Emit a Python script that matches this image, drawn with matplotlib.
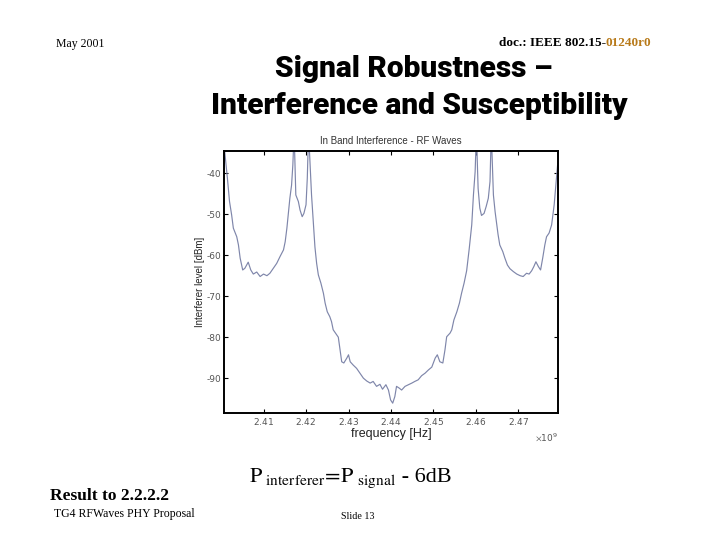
import matplotlib
matplotlib.use("Agg")
import matplotlib.pyplot as plt
from matplotlib.ticker import ScalarFormatter, FixedLocator

# frequency in GHz (plotted in Hz)
freq_ghz = [
    2.4008, 2.4015, 2.4020, 2.4025, 2.4029, 2.4037, 2.4041, 2.4045, 2.4051, 2.4056,
    2.4064, 2.4070, 2.4076, 2.4084, 2.4092, 2.4100, 2.4108, 2.4115, 2.4123, 2.4131,
    2.4139, 2.4147, 2.4151, 2.4155, 2.4158, 2.4162, 2.4166, 2.4169, 2.4172, 2.4176,
    2.4182, 2.4186, 2.4191, 2.4195, 2.4200, 2.4203, 2.4206, 2.4209, 2.4213, 2.4217,
    2.4221, 2.4225, 2.4229, 2.4235, 2.4241, 2.4245, 2.4250, 2.4256, 2.4260, 2.4264,
    2.4272, 2.4276, 2.4280, 2.4284, 2.4289, 2.4296, 2.4300, 2.4304, 2.4311, 2.4319,
    2.4327, 2.4335, 2.4343, 2.4351, 2.4358, 2.4366, 2.4374, 2.4380, 2.4388, 2.4394,
    2.4399, 2.4404, 2.4409, 2.4413, 2.4419, 2.4425, 2.4433, 2.4441, 2.4449, 2.4456,
    2.4464, 2.4472, 2.4480, 2.4488, 2.4496, 2.4504, 2.4509, 2.4515, 2.4522, 2.4527,
    2.4531, 2.4539, 2.4543, 2.4548, 2.4555, 2.4561, 2.4566, 2.4572, 2.4578, 2.4584,
    2.4590, 2.4594, 2.4598, 2.4601, 2.4605, 2.4609, 2.4613, 2.4619, 2.4624, 2.4629,
    2.4633, 2.4636, 2.4641, 2.4645, 2.4649, 2.4652, 2.4656, 2.4663, 2.4668, 2.4674,
    2.4680, 2.4688, 2.4696, 2.4704, 2.4711, 2.4719, 2.4725, 2.4731, 2.4736, 2.4741,
    2.4747, 2.4752, 2.4757, 2.4762, 2.4766, 2.4772, 2.4778, 2.4784, 2.4788, 2.4792,
]
level_dbm = [
    -34.0, -41.2, -46.9, -50.2, -53.4, -55.5, -57.5, -60.7, -63.6, -63.2,
    -61.7, -63.6, -64.6, -64.1, -65.2, -64.6, -65.0, -64.4, -63.2, -62.0,
    -60.3, -58.7, -56.7, -53.4, -50.2, -46.1, -42.9, -38.0, -30.0, -45.3,
    -46.9, -49.0, -50.6, -49.8, -47.7, -41.2, -30.0, -36.8, -45.3, -51.8,
    -58.0, -62.0, -64.8, -66.8, -69.3, -71.7, -73.8, -75.0, -76.2, -78.2,
    -79.4, -80.0, -83.1, -86.0, -86.3, -85.1, -84.3, -86.0, -86.8, -87.6,
    -88.8, -90.0, -90.7, -91.2, -90.8, -92.0, -91.5, -92.7, -91.6, -92.9,
    -95.3, -96.1, -94.5, -92.0, -92.4, -92.9, -92.0, -91.6, -91.2, -90.8,
    -90.4, -89.4, -88.8, -88.0, -87.3, -85.1, -84.3, -86.0, -86.3, -83.1,
    -79.9, -79.0, -78.2, -75.8, -73.8, -71.7, -69.3, -66.8, -63.8, -58.5,
    -52.6, -45.3, -39.6, -30.0, -43.7, -48.5, -50.3, -49.8, -48.1, -46.1,
    -42.0, -30.0, -45.3, -49.4, -52.6, -55.0, -57.5, -59.1, -60.7, -62.4,
    -63.3, -64.0, -64.6, -65.0, -65.2, -64.4, -64.6, -63.8, -62.8, -61.6,
    -62.8, -63.6, -60.7, -57.5, -55.5, -54.6, -52.6, -47.7, -42.9, -38.0,
]
xtick_ghz = [2.41, 2.42, 2.43, 2.44, 2.45, 2.46, 2.47]
ytick_vals = [-40, -50, -60, -70, -80, -90]

freq_hz = [f * 1e9 for f in freq_ghz]

plt.rcParams['mathtext.fontset'] = 'stix'
plt.rcParams['axes.unicode_minus'] = False
fig = plt.figure(figsize=(7.2, 5.4), dpi=100)
fig.patch.set_facecolor('white')
W, H = 720.0, 540.0

ax = fig.add_axes([224 / W, 1 - 413 / H, 334 / W, 262.3 / H])
ax.plot(freq_hz, level_dbm, color='#7f86aa', lw=0.85)
ax.set_xlim(2.4007e9, 2.4793e9)
ax.set_ylim(-98.5, -34.5)
ax.xaxis.set_major_locator(FixedLocator([t * 1e9 for t in xtick_ghz]))
ax.yaxis.set_major_locator(FixedLocator(ytick_vals))
fmt = ScalarFormatter(useMathText=True)
fmt.set_powerlimits((0, 0))
ax.xaxis.set_major_formatter(fmt)
ax.tick_params(direction='in', top=True, right=True, length=3, width=0.8,
               labelsize=6.5, labelcolor='#555555', pad=2)
for s in ax.spines.values():
    s.set_linewidth(1.4)
    s.set_color('black')
ax.xaxis.get_offset_text().set_fontsize(6.5)
ax.xaxis.get_offset_text().set_color('#555555')
ax.set_title('In Band Interference - RF Waves', fontsize=7, color='#333333', pad=5,
             family='Liberation Sans')
ax.set_xlabel('frequency [Hz]', fontsize=9, color='#222222', labelpad=1,
              family='Liberation Sans')
ax.set_ylabel('Interferer level [dBm]', fontsize=7, color='#222222', labelpad=1,
              family='Liberation Sans')

renderer = fig.canvas.get_renderer()


def fit_text(t, target_px):
    w = t.get_window_extent(renderer).width
    t.set_fontsize(t.get_fontsize() * target_px / w)


# slide texts
fig.text(80 / W, 1 - 44 / H, 'May 2001', ha='center', va='center',
         fontsize=8.5, family='Liberation Serif')
fig.text(606 / W, 1 - 46.5 / H, 'doc.: IEEE 802.15-', ha='right', va='baseline',
         fontsize=9.5, family='Liberation Serif', fontweight='bold')
fig.text(606 / W, 1 - 46.5 / H, '01240r0', ha='left', va='baseline',
         fontsize=9.5, family='Liberation Serif', fontweight='bold', color='#b87a1a')
t1 = fig.text(414 / W, 1 - 76.7 / H, 'Signal Robustness \u2013', ha='center',
              va='baseline', fontsize=20, family='Roboto', fontweight='black')
t2 = fig.text(419 / W, 1 - 113.5 / H, 'Interference and Susceptibility', ha='center',
              va='baseline', fontsize=20, family='Roboto', fontweight='black')
fit_text(t2, 418)
t1.set_fontsize(t2.get_fontsize())

f1 = fig.text(249 / W, 1 - 481.5 / H,
              r'$\mathrm{P}_{\ \mathrm{interferer}}\!=\!\mathrm{P}_{\ \mathrm{signal}}$',
              ha='left', va='baseline', fontsize=16)
fig.canvas.draw()
bb = f1.get_window_extent(renderer)
fig.text(bb.x1 / W, 1 - 481.5 / H, ' - 6dB', ha='left', va='baseline', fontsize=16,
         family='Liberation Serif')

fig.text(50.5 / W, 1 - 500.5 / H, 'Result to 2.2.2.2', ha='left', va='baseline',
         fontsize=12.5, family='Liberation Serif', fontweight='bold')
fig.text(53.5 / W, 1 - 517 / H, 'TG4 RFWaves PHY Proposal', ha='left', va='baseline',
         fontsize=8.5, family='Liberation Serif')
fig.text(358 / W, 1 - 519 / H, 'Slide 13', ha='center', va='baseline',
         fontsize=7.2, family='Liberation Serif')

fig.savefig('out.png', dpi=100, facecolor='white')
